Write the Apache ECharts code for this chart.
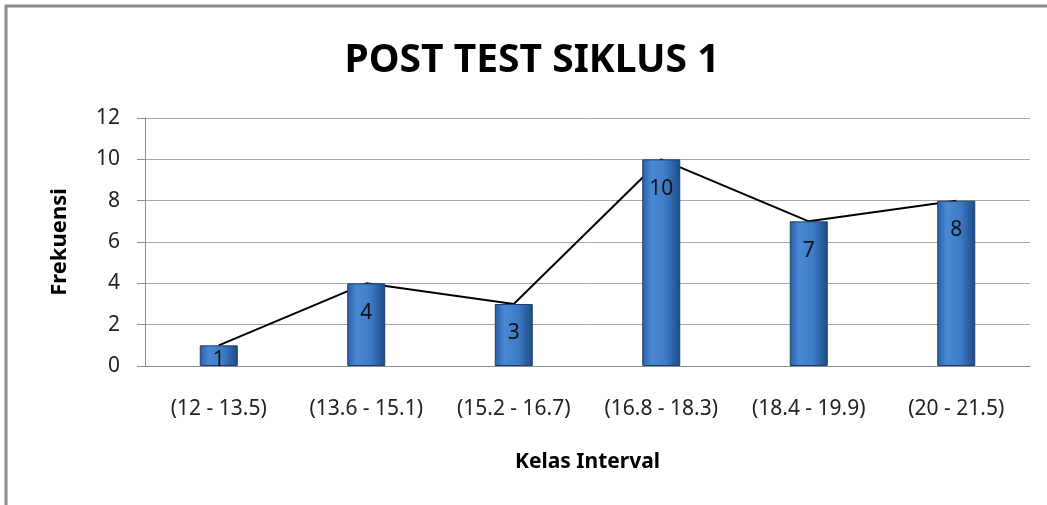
<!DOCTYPE html>
<html>
<head>
<meta charset="utf-8">
<script src="https://cdn.jsdelivr.net/npm/echarts@6/dist/echarts.min.js"></script>
<style>
    html, body { margin: 0; padding: 0; background: #fff; }
    #chartView { width: 1047px; height: 505px; }
</style>
</head>
<body>
<div id="chartView"></div>
<script>
    // data
    var kelasInterval = ['(12 - 13.5)', '(13.6 - 15.1)', '(15.2 - 16.7)', '(16.8 - 18.3)', '(18.4 - 19.9)', '(20 - 21.5)'];
    var frekuensi = [1, 4, 3, 10, 7, 8];
    var yTicks = [0, 2, 4, 6, 8, 10, 12];

    var theFont = 'Noto Sans';
    var barColor = {
        type: 'linear', x: 0, y: 0, x2: 1, y2: 0,
        colorStops: [
            {offset: 0, color: '#2a5ea6'},
            {offset: 0.25, color: '#4a88d4'},
            {offset: 0.6, color: '#3f7cc8'},
            {offset: 1, color: '#1d4b87'}
        ]
    };

    // short bars: label sits closer to the top (like Excel does)
    var barData = frekuensi.map(function (v) {
        return v < 2 ? {value: v, label: {distance: 4}} : v;
    });

    var chartView = echarts.init(document.getElementById('chartView'));
    var option = {
        animation: false,
        textStyle: {fontFamily: theFont},
        graphic: [{
            type: 'rect',
            shape: {x: 6, y: 6, width: 1200, height: 700},
            style: {fill: 'none', stroke: '#8c8c8c', lineWidth: 3},
            silent: true
        }],
        title: {
            text: 'POST TEST SIKLUS 1',
            left: 527,
            textAlign: 'center',
            top: 36,
            textStyle: {fontFamily: theFont, fontSize: 39, fontWeight: 'bold', color: '#000'}
        },
        grid: {left: 145, right: 17, top: 118, bottom: 139},
        xAxis: {
            type: 'category',
            data: kelasInterval,
            name: 'Kelas Interval',
            nameLocation: 'middle',
            nameGap: 86,
            nameTextStyle: {fontFamily: theFont, fontSize: 21, fontWeight: 'bold', color: '#000'},
            axisLine: {lineStyle: {color: '#8c8c8c', width: 1}},
            axisTick: {show: false},
            axisLabel: {fontFamily: theFont, fontSize: 21, color: '#222', margin: 33, interval: 0}
        },
        yAxis: {
            type: 'value',
            min: yTicks[0],
            max: yTicks[yTicks.length - 1],
            interval: 2,
            name: 'Frekuensi',
            nameLocation: 'middle',
            nameGap: 74,
            nameTextStyle: {fontFamily: theFont, fontSize: 22, fontWeight: 'bold', color: '#000'},
            axisLine: {show: true, lineStyle: {color: '#8c8c8c', width: 1}},
            axisTick: {show: true, inside: false, length: 8, lineStyle: {color: '#8c8c8c'}},
            splitLine: {lineStyle: {color: '#a6a6a6', width: 1}},
            axisLabel: {fontFamily: theFont, fontSize: 21, color: '#222', margin: 25}
        },
        series: [
            {
                type: 'line',
                data: frekuensi,
                symbol: 'none',
                z: 1,
                lineStyle: {color: '#000', width: 2}
            },
            {
                type: 'bar',
                data: barData,
                barWidth: 38,
                z: 3,
                itemStyle: {color: barColor, borderColor: '#1c3f6e', borderWidth: 1},
                label: {
                    show: true,
                    position: 'insideTop',
                    distance: 19,
                    fontFamily: theFont,
                    fontSize: 21,
                    color: '#111'
                }
            }
        ]
    };
    chartView.setOption(option);
</script>
</body>
</html>
